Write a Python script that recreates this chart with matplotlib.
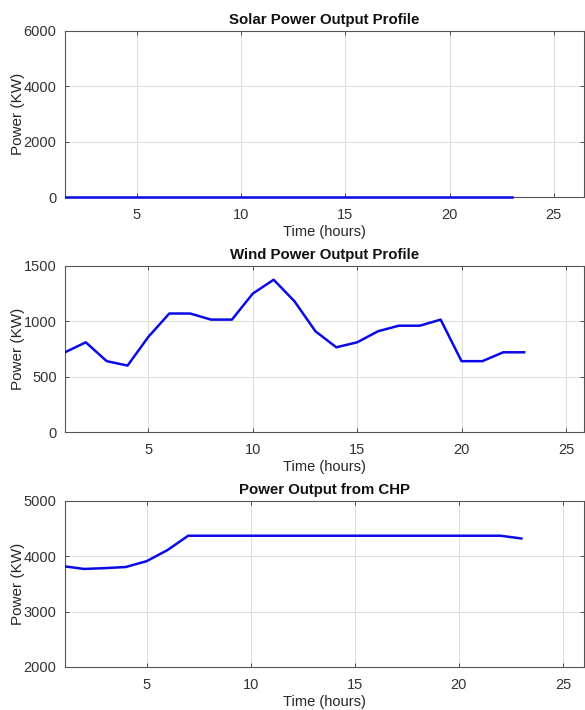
import numpy as np
import matplotlib
matplotlib.use("Agg")
import matplotlib.pyplot as plt
from matplotlib.patches import Rectangle

hours = list(range(1, 24))
solar = [0] * 23
wind = [720, 810, 640, 600, 860, 1070, 1070, 1015, 1015, 1250, 1375, 1180,
        910, 765, 810, 910, 960, 960, 1015, 640, 640, 720, 720]
chp = [3820, 3770, 3785, 3805, 3910, 4110, 4370, 4370, 4370, 4370, 4370, 4370,
       4370, 4370, 4370, 4370, 4370, 4370, 4370, 4370, 4370, 4370, 4320]

x_ticks = [5, 10, 15, 20, 25]
solar_yticks = [0, 2000, 4000, 6000]
wind_yticks = [0, 500, 1000, 1500]
chp_yticks = [2000, 3000, 4000, 5000]

plt.rcParams['font.family'] = ['Liberation Sans', 'DejaVu Sans']

dark = '#262626'
fig = plt.figure(figsize=(5.85, 7.10), dpi=100)

panels = [
    (solar, 'Solar Power Output Profile', solar_yticks, (1.55, 26.44), 0.7225),
    (wind, 'Wind Power Output Profile', wind_yticks, (1.0, 25.86), 0.3915),
    (chp, 'Power Output from CHP', chp_yticks, (1.08, 26.0), 0.0606),
]

for values, title, yticks, xlim, bottom in panels:
    ax = fig.add_axes([0.111, bottom, 0.887, 0.234])
    line, = ax.plot(hours, values, color='#0a0ae6', linewidth=1.8, zorder=3)
    # clip only left/right so a line sitting on the axis stays full width
    line.set_clip_path(Rectangle((0, -0.05), 1, 1.1, transform=ax.transAxes))
    ax.set_xlim(*xlim)
    ax.set_ylim(yticks[0], yticks[-1])
    ax.set_xticks(x_ticks)
    ax.set_yticks(yticks)
    ax.grid(True, color='#dcdcdc', linewidth=0.7)
    ax.set_axisbelow(True)
    ax.tick_params(direction='in', length=3, width=0.6, colors='#333333',
                   labelsize=10.5, top=True, right=True)
    ax.tick_params(axis='x', pad=8)
    ax.tick_params(axis='y', pad=6)
    for s in ax.spines.values():
        s.set_color('#555555')
        s.set_linewidth(0.8)
    ax.set_title(title, fontsize=10.8, fontweight='bold', color='#111111', pad=5)
    ax.set_xlabel('Time (hours)', fontsize=10.5, color=dark, labelpad=2)
    ax.set_ylabel('Power (KW)', fontsize=11, color=dark, labelpad=-1)

fig.savefig('out.png', dpi=100)
